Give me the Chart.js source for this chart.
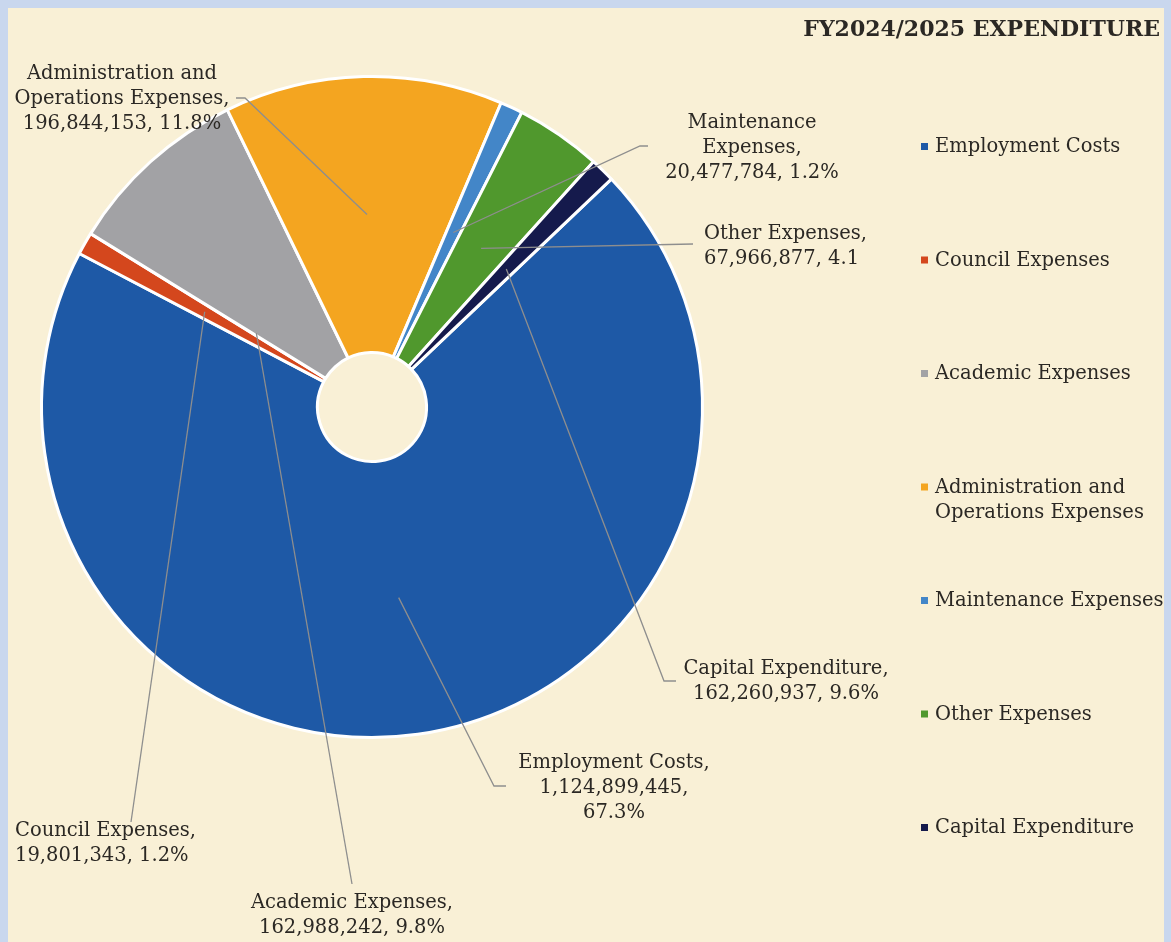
<!DOCTYPE html>
<html>
<head>
<meta charset="utf-8">
<title>FY2024/2025 Expenditure</title>
<script src="https://cdn.jsdelivr.net/npm/chart.js@4.4.1/dist/chart.umd.min.js"></script>
<style>
  html, body { margin: 0; padding: 0; }
  body { width: 1171px; height: 942px; background: #c9d7ee; position: relative; overflow: hidden; }
  #paper { position: absolute; left: 8px; top: 8px; width: 1156px; height: 934px; background: #f9f0d6; }
  #expenditureChart { position: absolute; left: 0; top: 0; }
</style>
</head>
<body>
<div id="paper"></div>
<canvas id="expenditureChart" width="1171" height="942"></canvas>
<script>
const chartTitle = 'FY2024/2025 EXPENDITURE';
const categories = [
    'Employment Costs',
    'Council Expenses',
    'Academic Expenses',
    'Administration and Operations Expenses',
    'Maintenance Expenses',
    'Other Expenses',
    'Capital Expenditure'
];
// amounts and percentages as printed in the data labels
const amounts = [1124899445, 19801343, 162988242, 196844153, 20477784, 67966877, 162260937];
const percentLabels = ['67.3%', '1.2%', '9.8%', '11.8%', '1.2%', '4.1', '9.6%'];
// share of the circle each slice actually takes in the picture (printed % don't add up)
const sliceShares = [69.8, 1.1, 9.0, 13.6, 1.1, 4.2, 1.2];
const sliceColors = ['#1e59a6', '#d4471d', '#a2a2a5', '#f4a520', '#4386c8', '#50982d', '#151a4c'];

const labelFont = '19.5px "DejaVu Serif"';
const textColor = '#2b2824';
const leaderColor = '#8e8e8e';

// where each data label sits and how its leader line runs
const callouts = [
    { x: 614, y: 763, align: 'center', wrap: 205, t: 0.5, f: 0.5, path: [[494, 786], [506, 786]] },
    { x: 15, y: 831, align: 'left', wrap: 190, t: 0.5, f: 0.5, path: [[131, 822]] },
    { x: 352, y: 903, align: 'center', wrap: 210, t: 0.03, f: 0.3, path: [[352, 884]] },
    { x: 122, y: 74, align: 'center', wrap: 222, t: 0.5, f: 0.5, path: [[245, 98], [236, 98]] },
    { x: 752, y: 123, align: 'center', wrap: 175, t: 0.5, f: 0.5, path: [[640, 146], [648, 146]] },
    { x: 704, y: 234, align: 'left', wrap: 175, t: 0.5, f: 0.5, path: [[693, 244]] },
    { x: 786, y: 669, align: 'center', wrap: 212, t: 0.5, f: 0.5, path: [[664, 681], [676, 681]] }
];

function wrapText(ctx, text, maxWidth) {
    const words = text.split(' ');
    const lines = [];
    let line = '';
    words.forEach(w => {
        const test = line ? line + ' ' + w : w;
        if (line && ctx.measureText(test).width > maxWidth) {
            lines.push(line);
            line = w;
        } else {
            line = test;
        }
    });
    if (line) lines.push(line);
    return lines;
}

const calloutPlugin = {
    id: 'callouts',
    afterDraw(chart) {
        const ctx = chart.ctx;
        const meta = chart.getDatasetMeta(0);
        ctx.save();

        // leader lines
        ctx.strokeStyle = leaderColor;
        ctx.lineWidth = 1.3;
        meta.data.forEach((arc, i) => {
            const c = callouts[i];
            const p = arc.getProps(['x', 'y', 'startAngle', 'endAngle', 'innerRadius', 'outerRadius'], true);
            const a = p.startAngle + c.t * (p.endAngle - p.startAngle);
            const r = p.innerRadius + c.f * (p.outerRadius - p.innerRadius);
            ctx.beginPath();
            ctx.moveTo(p.x + r * Math.cos(a), p.y + r * Math.sin(a));
            c.path.forEach(pt => ctx.lineTo(pt[0], pt[1]));
            ctx.stroke();
        });

        // data labels
        ctx.font = labelFont;
        ctx.fillStyle = textColor;
        ctx.textBaseline = 'middle';
        categories.forEach((name, i) => {
            const c = callouts[i];
            const text = name + ', ' + amounts[i].toLocaleString('en-US') + ', ' + percentLabels[i];
            ctx.textAlign = c.align;
            wrapText(ctx, text, c.wrap).forEach((line, k) => {
                ctx.fillText(line, c.x, c.y + k * 25);
            });
        });

        // title
        ctx.font = 'bold 22px "DejaVu Serif"';
        ctx.textAlign = 'right';
        ctx.fillText(chartTitle, 1160, 30);

        // legend down the right side
        ctx.font = labelFont;
        ctx.textAlign = 'left';
        categories.forEach((name, i) => {
            const y = 147 + i * 113.5;
            ctx.fillStyle = sliceColors[i];
            ctx.fillRect(921, y - 4, 7, 7);
            ctx.fillStyle = textColor;
            wrapText(ctx, name, 232).forEach((line, k) => {
                ctx.fillText(line, 935, y + k * 25);
            });
        });
        ctx.restore();
    }
};

const ctx = document.getElementById('expenditureChart').getContext('2d');

const expenditureChart = new Chart(ctx, {
    type: 'doughnut',
    data: {
        labels: categories,
        datasets: [{
            data: sliceShares,
            backgroundColor: sliceColors,
            borderColor: '#ffffff',
            borderWidth: 3,
            hoverOffset: 0
        }]
    },
    options: {
        responsive: false,
        animation: false,
        cutout: '16.5%',
        rotation: 46.4,
        layout: {
            padding: { left: 40, top: 75, right: 467, bottom: 203 }
        },
        plugins: {
            legend: { display: false },
            title: { display: false },
            tooltip: { enabled: false }
        }
    },
    plugins: [calloutPlugin]
});
</script>
</body>
</html>
